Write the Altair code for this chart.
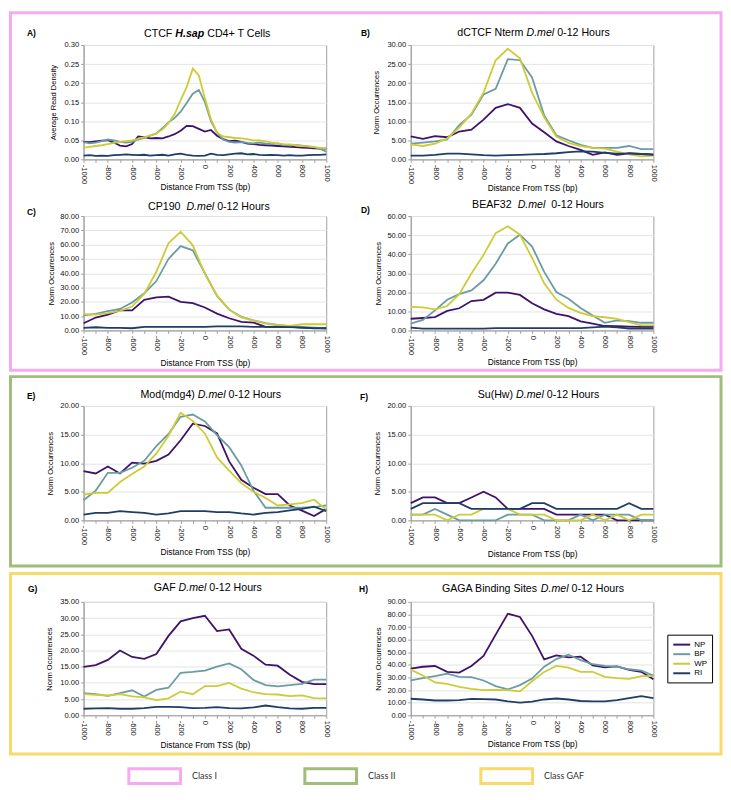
import altair as alt
import pandas as pd

SERIES = ["NP", "BP", "WP", "RI"]
SERIES_COLORS = ["#3d136b", "#6b9ca2", "#cdcb36", "#1e3e66"]
CLASSES = ["Class I", "Class II", "Class GAF"]
CLASS_COLORS = ["#f5aaf1", "#a0bd7c", "#f8d96b"]

X_STEP100 = list(range(-1000, 1001, 100))
X_STEP50 = list(range(-1000, 1001, 50))
X_TICK_LABELS = [-1000, -800, -600, -400, -200, 0, 200, 400, 600, 800, 1000]

# ---- A) CTCF H.sap CD4+ T Cells (x step 50) ----
A_NP = [0.046, 0.045, 0.047, 0.049, 0.050, 0.044, 0.036, 0.034, 0.040, 0.060,
        0.058, 0.055, 0.056, 0.055, 0.060, 0.066, 0.075, 0.088, 0.087, 0.080,
        0.073, 0.077, 0.062, 0.053, 0.048, 0.049, 0.046, 0.041, 0.040, 0.038,
        0.037, 0.036, 0.035, 0.034, 0.033, 0.032, 0.031, 0.030, 0.029, 0.028, 0.028]
A_BP = [0.045, 0.042, 0.044, 0.048, 0.052, 0.050, 0.046, 0.044, 0.046, 0.052,
        0.056, 0.062, 0.068, 0.082, 0.097, 0.108, 0.125, 0.148, 0.172, 0.182,
        0.150, 0.100, 0.070, 0.052, 0.046, 0.044, 0.045, 0.043, 0.042, 0.044,
        0.041, 0.040, 0.042, 0.038, 0.036, 0.038, 0.036, 0.034, 0.032, 0.028, 0.020]
A_WP = [0.031, 0.033, 0.035, 0.037, 0.040, 0.043, 0.046, 0.048, 0.050, 0.054,
        0.058, 0.063, 0.068, 0.078, 0.095, 0.118, 0.155, 0.190, 0.238, 0.220,
        0.160, 0.105, 0.070, 0.060, 0.058, 0.056, 0.055, 0.053, 0.050, 0.050,
        0.047, 0.044, 0.042, 0.040, 0.039, 0.037, 0.035, 0.034, 0.032, 0.030, 0.029]
A_RI = [0.010, 0.011, 0.009, 0.010, 0.009, 0.011, 0.012, 0.013, 0.012, 0.011,
        0.012, 0.010, 0.011, 0.012, 0.010, 0.013, 0.015, 0.012, 0.010, 0.009,
        0.010, 0.015, 0.012, 0.011, 0.013, 0.015, 0.016, 0.013, 0.014, 0.012,
        0.011, 0.012, 0.011, 0.010, 0.011, 0.010, 0.010, 0.011, 0.012, 0.012, 0.013]

# ---- B) dCTCF Nterm ----
B_NP = [6.0, 5.4, 6.1, 5.8, 7.3, 7.8, 10.4, 13.5, 14.5, 13.5, 9.4, 7.1, 4.7, 3.5, 2.5, 1.2, 1.8, 1.2, 1.6, 1.4, 1.3]
B_BP = [4.1, 4.4, 4.7, 5.2, 9.0, 11.7, 17.0, 18.5, 26.3, 26.0, 21.5, 11.5, 6.3, 5.0, 3.8, 3.0, 3.0, 3.0, 3.5, 2.7, 2.7]
B_WP = [3.9, 3.5, 4.1, 5.5, 8.3, 12.0, 17.5, 26.0, 29.0, 26.5, 17.5, 11.0, 6.0, 4.3, 3.5, 3.0, 2.8, 2.0, 1.3, 0.8, 1.0]
B_RI = [1.0, 1.0, 1.2, 1.5, 1.5, 1.3, 1.1, 1.0, 1.1, 1.2, 1.3, 1.4, 1.6, 1.9, 2.1, 2.0, 1.7, 1.5, 1.5, 1.4, 1.2]

# ---- C) CP190 ----
C_NP = [5.0, 9.0, 11.0, 14.0, 14.0, 21.3, 23.1, 23.6, 19.9, 19.0, 16.0, 11.7, 8.5, 6.0, 5.5, 2.5, 2.7, 2.5, 2.0, 1.8, 1.5]
C_BP = [10.5, 11.5, 13.5, 15.0, 19.5, 26.0, 34.5, 50.0, 59.0, 56.0, 40.0, 24.0, 14.5, 9.5, 7.0, 5.0, 3.8, 3.0, 2.5, 2.0, 1.5]
C_WP = [11.4, 11.0, 12.0, 13.7, 16.7, 25.5, 41.0, 61.0, 69.0, 59.5, 39.5, 24.5, 14.5, 9.1, 6.9, 4.8, 3.9, 3.2, 4.3, 4.3, 4.3]
C_RI = [1.8, 2.2, 1.8, 1.8, 1.5, 2.5, 2.5, 2.5, 2.5, 2.5, 2.5, 2.8, 2.8, 2.8, 2.5, 2.5, 2.5, 2.3, 2.0, 1.5, 1.5]

# ---- D) BEAF32 ----
D_NP = [6.1, 6.5, 7.0, 10.2, 11.6, 15.4, 16.0, 19.8, 19.8, 18.6, 14.2, 11.0, 8.7, 7.5, 4.7, 3.6, 2.3, 2.2, 2.0, 1.8, 1.8]
D_BP = [3.6, 5.5, 10.5, 16.1, 19.0, 21.0, 26.3, 35.0, 45.6, 50.2, 44.0, 30.7, 20.1, 16.6, 11.8, 7.8, 4.0, 5.2, 4.9, 4.0, 4.0]
D_WP = [12.3, 12.1, 11.0, 12.8, 19.0, 29.8, 39.6, 51.0, 54.6, 50.2, 38.0, 24.7, 16.1, 11.8, 9.2, 7.5, 6.9, 6.1, 4.3, 2.6, 2.6]
D_RI = [1.4, 0.9, 0.9, 0.9, 0.9, 0.9, 0.9, 1.2, 1.2, 1.2, 1.2, 1.2, 1.2, 1.2, 1.2, 1.6, 2.0, 1.6, 1.0, 1.0, 1.0]

# ---- E) Mod(mdg4) ----
E_NP = [8.6, 8.2, 9.4, 8.2, 10.1, 9.9, 10.4, 11.5, 14.0, 16.9, 16.5, 15.2, 10.3, 7.1, 5.7, 4.6, 4.6, 2.6, 1.7, 0.75, 2.0]
E_BP = [3.5, 5.2, 8.3, 8.3, 9.2, 10.4, 13.0, 15.1, 18.1, 18.5, 17.3, 14.9, 12.8, 9.6, 5.2, 2.2, 2.2, 2.2, 2.2, 2.3, 2.6]
E_WP = [4.5, 4.8, 4.8, 6.7, 8.1, 9.4, 11.7, 14.8, 18.8, 17.4, 15.2, 11.0, 8.7, 6.5, 5.0, 3.9, 2.6, 2.8, 3.0, 3.6, 1.9]
E_RI = [1.0, 1.3, 1.3, 1.6, 1.45, 1.3, 1.0, 1.2, 1.6, 1.6, 1.6, 1.45, 1.45, 1.2, 1.0, 1.3, 1.45, 1.75, 2.0, 2.4, 1.6]

# ---- F) Su(Hw) ----
F_NP = [3, 4, 4, 3, 3, 4, 5, 4, 2, 2, 2, 2, 1, 1, 1, 1, 1, 0, 0, 0, 0]
F_BP = [1, 1, 2, 1, 0, 0, 0, 0, 1, 1, 1, 0, 0, 0, 1, 0, 1, 1, 1, 0, 0]
F_WP = [1, 1, 1, 0, 1, 1, 2, 2, 2, 1, 1, 1, 0, 0, 0, 1, 0, 1, 0, 1, 1]
F_RI = [2, 3, 3, 3, 3, 2, 2, 2, 2, 2, 3, 3, 2, 2, 2, 2, 2, 2, 3, 2, 2]

# ---- G) GAF ----
G_NP = [14.9, 15.5, 17.1, 20.0, 18.0, 17.4, 18.9, 24.5, 29.0, 30.0, 30.7, 26.0, 26.5, 20.5, 18.4, 15.6, 15.3, 12.5, 10.3, 9.6, 9.6]
G_BP = [6.8, 6.5, 6.0, 6.8, 7.7, 5.8, 7.8, 8.5, 13.1, 13.4, 13.8, 15.0, 16.0, 14.2, 10.9, 9.3, 8.9, 9.3, 9.7, 11.0, 11.0]
G_WP = [6.5, 6.3, 6.1, 6.5, 5.8, 5.5, 4.7, 5.2, 7.3, 6.5, 9.0, 9.0, 10.0, 8.2, 7.1, 6.5, 6.4, 5.9, 6.1, 5.3, 5.2]
G_RI = [2.0, 2.1, 2.2, 2.0, 2.0, 2.2, 2.6, 2.6, 2.5, 2.2, 2.3, 2.5, 2.2, 2.1, 2.4, 3.0, 2.5, 2.1, 2.0, 2.3, 2.3]

# ---- H) GAGA Binding Sites ----
H_NP = [37.0, 38.5, 39.1, 34.4, 33.9, 39.1, 47.0, 64.0, 80.6, 78.0, 63.0, 44.4, 47.5, 45.9, 46.5, 39.6, 38.0, 38.8, 36.0, 34.5, 28.6]
H_BP = [27.6, 29.5, 31.0, 33.0, 30.4, 30.2, 27.6, 23.1, 20.5, 23.9, 29.1, 38.6, 44.6, 48.0, 43.8, 40.5, 39.1, 38.5, 36.5, 35.5, 31.5]
H_WP = [36.2, 31.5, 26.0, 24.9, 22.6, 21.0, 20.0, 20.2, 20.0, 18.9, 27.0, 34.4, 39.1, 37.8, 34.4, 34.5, 30.4, 29.5, 28.9, 31.0, 31.0]
H_RI = [13.1, 12.5, 11.7, 11.7, 12.0, 13.0, 12.8, 12.5, 11.0, 10.0, 10.8, 12.5, 13.3, 12.5, 11.3, 11.0, 11.0, 12.0, 13.5, 15.2, 13.5]

TITLES = {
    "A": [("CTCF ", "n"), ("H.sap", "bi"), (" CD4+ T Cells", "n")],
    "B": [("dCTCF Nterm ", "n"), ("D.mel", "i"), (" 0-12 Hours", "n")],
    "C": [("CP190  ", "n"), ("D.mel", "i"), (" 0-12 Hours", "n")],
    "D": [("BEAF32  ", "n"), ("D.mel", "i"), ("  0-12 Hours", "n")],
    "E": [("Mod(mdg4) ", "n"), ("D.mel", "i"), (" 0-12 Hours", "n")],
    "F": [("Su(Hw) ", "n"), ("D.mel", "i"), (" 0-12 Hours", "n")],
    "G": [("GAF ", "n"), ("D.mel", "i"), (" 0-12 Hours", "n")],
    "H": [("GAGA Binding Sites ", "n"), ("D.mel", "i"), (" 0-12 Hours", "n")],
}
X_TITLE = "Distance From TSS (bp)"
Y_TITLE_A = "Average Read Density"
Y_TITLE = "Norm Occurrences"

# ---------------- helpers ----------------
_W = {" ": 278, "(": 333, ")": 333, "+": 584, "-": 333, ".": 278}
for _c in "0123456789":
    _W[_c] = 556
_W.update(dict(zip("ABCDEFGHIJKLMNOPQRSTUVWXYZ",
                   [667, 667, 722, 722, 667, 611, 778, 722, 278, 500, 667, 556, 833,
                    722, 778, 667, 778, 722, 667, 611, 722, 667, 944, 667, 667, 611])))
_W.update(dict(zip("abcdefghijklmnopqrstuvwxyz",
                   [556, 556, 500, 556, 556, 278, 556, 556, 222, 222, 500, 222, 833,
                    556, 556, 556, 556, 333, 500, 278, 556, 500, 722, 500, 500, 500])))
_WB = {"H": 722, ".": 278, "s": 556, "a": 556, "p": 611}


def text_w(s, size, bold=False):
    tot = 0
    for c in s:
        tot += (_WB.get(c, _W.get(c, 556)) if bold else _W.get(c, 556))
    return tot * size / 1000.0


LABEL_EXPR = ("indexof([" + ",".join(str(v) for v in X_TICK_LABELS) +
              "], datum.value) >= 0 ? '' + datum.value : ''")

SERIES_LEGEND = alt.Legend(
    title=None, orient="none", legendX=587, legendY=593,
    symbolType="M-1,0H3.25", symbolSize=64, symbolStrokeWidth=2,
    labelFont="Liberation Sans", labelFontSize=8, labelColor="#000",
    labelOffset=12, rowPadding=0.6, padding=5,
    strokeColor="#000", fillColor="#ffffff")

CLASS_LEGEND = alt.Legend(
    title=None, orient="none", legendX=44, legendY=726,
    direction="horizontal", columns=3, gridAlign="all", columnPadding=66,
    symbolType="M-1,-1H5.93V1H-1Z", symbolSize=225, symbolStrokeWidth=3,
    labelFont="Lato", labelFontSize=9, labelColor="#333", labelOffset=47,
    padding=0)

PW = 244


def make_panel(key, xs, vals, ymax, ystep, ytitle, t_dx, t_dy, l_x, l_y,
               yt_x, xt_y, h=115, frame=None):
    rows = [{"x": x, "v": v, "s": s}
            for s, arr in zip(SERIES, vals) for x, v in zip(xs, arr)]
    df = pd.DataFrame(rows)
    nt = int(round(ymax / ystep))
    yticks = [round(i * ystep, 4) for i in range(nt + 1)]
    lines = alt.Chart(df).mark_line(strokeWidth=1.8).encode(
        x=alt.X("x:Q", scale=alt.Scale(domain=[-1000, 1000], nice=False, zero=False),
                axis=alt.Axis(values=X_STEP100, labelExpr=LABEL_EXPR, labelAngle=90,
                              labelOverlap=False, labelFlush=False, grid=False,
                              title=X_TITLE, titleY=xt_y, titleBaseline="middle")),
        y=alt.Y("v:Q", scale=alt.Scale(domain=[0, ymax], nice=False),
                axis=alt.Axis(values=yticks, format=".2f", labelOverlap=False,
                              labelFlush=False, title=ytitle, titleX=yt_x,
                              titleBaseline="middle", titleFontSize=7.6)),
        color=alt.Color("s:N", scale=alt.Scale(domain=SERIES, range=SERIES_COLORS),
                        legend=SERIES_LEGEND),
    )
    layers = []
    if frame is not None:
        cls, x1, x2, y1, y2 = frame
        layers.append(
            alt.Chart(pd.DataFrame({"cls": [cls]})).mark_rect(
                fill="transparent", strokeWidth=3).encode(
                stroke=alt.Stroke("cls:N", scale=alt.Scale(domain=CLASSES, range=CLASS_COLORS),
                                  legend=CLASS_LEGEND),
                x=alt.value(x1), x2=alt.value(x2), y=alt.value(y1), y2=alt.value(y2)))
    layers.append(lines)
    size = 10.7
    parts = TITLES[key]
    total = sum(text_w(t, size, st == "bi") for t, st in parts)
    x = PW / 2 + t_dx - total / 2
    for t, st in parts:
        lead = len(t) - len(t.lstrip(" "))
        xs_ = x + text_w(" " * lead, size)
        layers.append(
            alt.Chart(pd.DataFrame({"t": [t.strip()]})).mark_text(
                align="left", baseline="alphabetic", font="Liberation Sans",
                fontSize=size, fontStyle="italic" if "i" in st else "normal",
                fontWeight="bold" if "b" in st else "normal", color="#000").encode(
                x=alt.value(xs_), y=alt.value(t_dy), text="t:N"))
        x += text_w(t, size, st == "bi")
    layers.append(
        alt.Chart(pd.DataFrame({"t": [key + ")"]})).mark_text(
            align="left", baseline="alphabetic", font="Liberation Sans",
            fontSize=8.5, fontWeight="bold", color="#000").encode(
            x=alt.value(l_x), y=alt.value(l_y), text="t:N"))
    return alt.layer(*layers).properties(width=PW, height=h)


def spacer(h):
    return alt.Chart(pd.DataFrame({"z": [0]})).mark_point(opacity=0, size=1).encode(
        x=alt.value(0), y=alt.value(0)
    ).properties(width=PW, height=h, view=alt.ViewBackground(stroke="transparent"))


pA = make_panel("A", X_STEP50, [A_NP, A_BP, A_WP, A_RI], 0.30, 0.05, Y_TITLE_A,
                2.5, -8.3, -57, -8.7, -30, 27,
                frame=("Class I", -73.5, 641, -32.5, 327))
pB = make_panel("B", X_STEP100, [B_NP, B_BP, B_WP, B_RI], 30, 5, Y_TITLE,
                1.5, -8.7, -50, -9, -34, 28)
pC = make_panel("C", X_STEP100, [C_NP, C_BP, C_WP, C_RI], 80, 10, Y_TITLE,
                4, -6.3, -57, -1, -32, 32)
pD = make_panel("D", X_STEP100, [D_NP, D_BP, D_WP, D_RI], 60, 10, Y_TITLE,
                6, -7.7, -50, -3.3, -32, 31)
pE = make_panel("E", X_STEP100, [E_NP, E_BP, E_WP, E_RI], 20, 5, Y_TITLE,
                6, -8.3, -57, -7.3, -33, 31,
                frame=("Class II", -73.5, 641, -29.5, 161))
pF = make_panel("F", X_STEP100, [F_NP, F_BP, F_WP, F_RI], 20, 5, Y_TITLE,
                6.5, -8, -51, -6, -33, 33)
pG = make_panel("G", X_STEP100, [G_NP, G_BP, G_WP, G_RI], 35, 5, Y_TITLE,
                3, -11, -56, -10.3, -34, 29, h=114,
                frame=("Class GAF", -73.5, 641, -28.5, 153))
pH = make_panel("H", X_STEP100, [H_NP, H_BP, H_WP, H_RI], 90, 10, Y_TITLE,
                1, -10.3, -52, -10, -32, 28, h=114)

cells = [pA, pB, spacer(57), spacer(57),
         pC, pD, spacer(76), spacer(76),
         pE, pF, spacer(82), spacer(82),
         pG, pH]

chart = alt.concat(
    *cells, columns=2, spacing={"row": 0, "column": 85}, bounds="flush", align="each"
).properties(
    padding=0, background="white"
).configure_view(
    stroke="#a0a0a0", strokeWidth=1
).configure_axis(
    labelFont="Liberation Sans", titleFont="Liberation Sans",
    labelColor="#111", titleColor="#000", labelFontSize=7.6, titleFontSize=8.4,
    titleFontWeight="normal", domainColor="#a0a0a0", tickColor="#a0a0a0",
    tickSize=3, gridColor="#e4e4e4", labelPadding=2
)

chart.save("out.html", embed_options={"renderer": "svg", "actions": False})
